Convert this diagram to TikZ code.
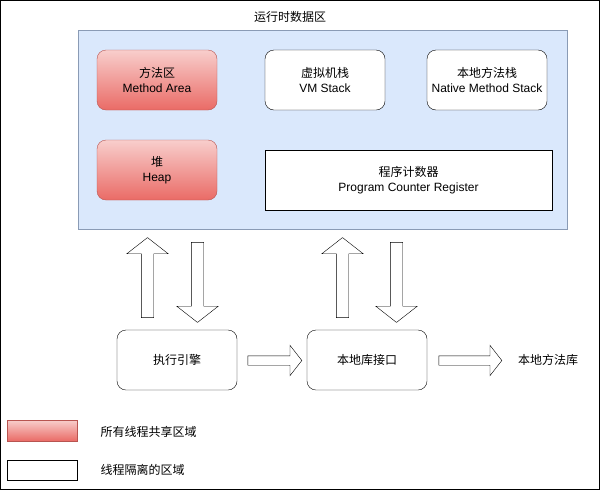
\documentclass[tikz,border=0pt]{standalone}
\usepackage{fontspec}
\setmainfont{Liberation Sans}
\newfontfamily\cjk{Noto Sans CJK SC}
\usetikzlibrary{shapes.arrows}
\definecolor{areafill}{HTML}{DAE8FC}
\definecolor{arealine}{HTML}{8A9BB5}
\definecolor{sharedtop}{HTML}{F8CECC}
\definecolor{sharedbottom}{HTML}{EA6B66}
\definecolor{sharedline}{HTML}{B85450}
\begin{document}
\begin{tikzpicture}[x=1pt,y=-1pt,font=\fontsize{12}{15}\selectfont,
    shared/.style={draw=sharedline,top color=sharedtop,bottom color=sharedbottom,
        rounded corners=9pt,minimum width=120pt,minimum height=60pt,align=center},
    private/.style={draw,fill=white,rounded corners=9pt,
        minimum width=120pt,minimum height=60pt,align=center},
    bigarrow/.style={draw,fill=white,shape=single arrow,inner xsep=6pt,inner ysep=0pt,
        single arrow head extend=14.5pt,single arrow tip angle=104,minimum height=80pt},
    flatarrow/.style={draw,fill=white,shape=single arrow,inner xsep=0pt,inner ysep=4.5pt,
        single arrow head extend=10.5pt,single arrow tip angle=104}]
        \useasboundingbox (0,0) rectangle (601,491);
        % Draw outer frame
        \draw (0.5,0.5) rectangle (599.5,489.5);
        % Runtime data area
        \node[draw=arealine,fill=areafill,minimum width=489pt,minimum height=199pt] (area) at (322.5,129.5) {};
        \node (title) at (290,17) {\cjk 运行时数据区};
        \node[shared] (method) at (157,80) {{\cjk 方法区}\\Method Area};
        \node[private] (vmstack) at (325,80) {{\cjk 虚拟机栈}\\VM Stack};
        \node[private] (nativestack) at (487,80) {{\cjk 本地方法栈}\\Native Method Stack};
        \node[shared] (heap) at (157,170) {{\cjk 堆}\\Heap};
        \node[draw,fill=white,minimum width=287pt,minimum height=60pt,align=center] (pc) at (408.5,180) {{\cjk 程序计数器}\\Program Counter Register};
        % Engine and native interface
        \node[private] (engine) at (177,360) {\cjk 执行引擎};
        \node[private] (jni) at (367,360) {\cjk 本地库接口};
        \node (nativelib) at (548,360) {\cjk 本地方法库};
        % Block arrows between them
        \node[bigarrow,shape border rotate=90] (up1) at (147.5,280) {};
        \node[bigarrow,shape border rotate=270] (down1) at (197.5,280) {};
        \node[bigarrow,shape border rotate=90] (up2) at (342.5,280) {};
        \node[bigarrow,shape border rotate=270] (down2) at (396.5,280) {};
        \node[flatarrow,minimum height=54pt] (right1) at (273,360.5) {};
        \node[flatarrow,minimum height=63pt] (right2) at (468.5,360.5) {};
        % Legend
        \node[draw=sharedline,top color=sharedtop,bottom color=sharedbottom,minimum width=70pt,minimum height=21pt] (keyshared) at (42,430.5) {};
        \node[anchor=west] (keysharedtext) at (97,432) {\cjk 所有线程共享区域};
        \node[draw,fill=white,minimum width=70pt,minimum height=20pt] (keyprivate) at (42,470) {};
        \node[anchor=west] (keyprivatetext) at (97,470) {\cjk 线程隔离的区域};
\end{tikzpicture}
\end{document}
